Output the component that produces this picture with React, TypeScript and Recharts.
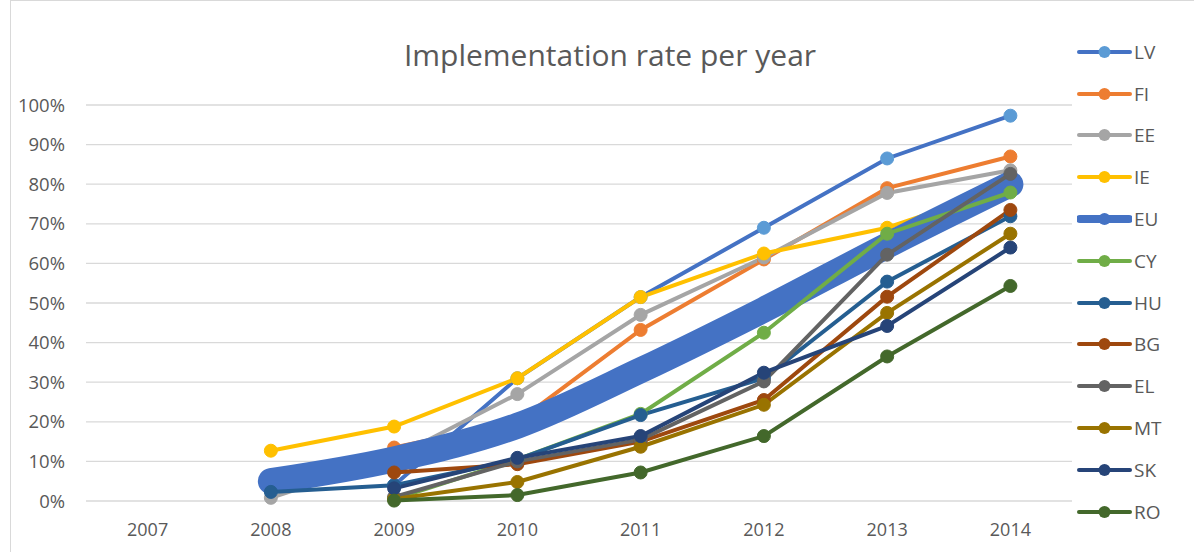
import { LineChart, Line, XAxis, YAxis, CartesianGrid } from 'recharts'

const years = ['2007', '2008', '2009', '2010', '2011', '2012', '2013', '2014']

// implementation rate per country, null = no data that year
const LV = [null, null, 0.04, 0.31, 0.515, 0.69, 0.865, 0.973]
const FI = [null, null, 0.135, 0.2, 0.432, 0.61, 0.79, 0.87]
const EE = [null, 0.008, 0.11, 0.27, 0.47, 0.615, 0.778, 0.835]
const IE = [null, 0.127, 0.188, 0.31, 0.515, 0.625, 0.69, 0.795]
const EU = [null, 0.05, 0.105, 0.19, 0.33, 0.483, 0.645, 0.8]
const CY = [null, null, 0.005, 0.105, 0.22, 0.425, 0.675, 0.779]
const HU = [null, 0.023, 0.04, 0.105, 0.217, 0.31, 0.554, 0.719]
const BG = [null, null, 0.072, 0.093, 0.15, 0.255, 0.516, 0.735]
const EL = [null, null, 0.01, 0.1, 0.155, 0.302, 0.622, 0.826]
const MT = [null, null, 0.005, 0.048, 0.137, 0.243, 0.475, 0.675]
const SK = [null, null, 0.032, 0.109, 0.164, 0.324, 0.442, 0.64]
const RO = [null, null, 0.001, 0.015, 0.072, 0.164, 0.365, 0.543]

const yTicks = [0, 0.1, 0.2, 0.3, 0.4, 0.5, 0.6, 0.7, 0.8, 0.9, 1]

const series = [
  { key: 'LV', values: LV, stroke: '#4472C4', dot: '#5B9BD5' },
  { key: 'FI', values: FI, stroke: '#ED7D31', dot: '#ED7D31' },
  { key: 'EE', values: EE, stroke: '#A5A5A5', dot: '#A5A5A5' },
  { key: 'IE', values: IE, stroke: '#FFC000', dot: '#FFC000' },
  { key: 'EU', values: EU, stroke: '#4472C4', dot: '#4472C4' },
  { key: 'CY', values: CY, stroke: '#70AD47', dot: '#70AD47' },
  { key: 'HU', values: HU, stroke: '#255E91', dot: '#255E91' },
  { key: 'BG', values: BG, stroke: '#9E480E', dot: '#9E480E' },
  { key: 'EL', values: EL, stroke: '#636363', dot: '#636363' },
  { key: 'MT', values: MT, stroke: '#997300', dot: '#997300' },
  { key: 'SK', values: SK, stroke: '#264478', dot: '#264478' },
  { key: 'RO', values: RO, stroke: '#43682B', dot: '#43682B' },
]

const data = years.map((year, i) => {
  const row: Record<string, any> = { year }
  series.forEach(s => { row[s.key] = s.values[i] })
  return row
})

const font = '"Open Sans", sans-serif'
const textColor = '#595959'
const xPad = { left: 61.6, right: 61.6 }

// recharts draws all dots above all lines, so the three groups are stacked
// as separate charts to keep Excel's series order (EU band over LV..IE)
const groups = [series.slice(0, 4), series.slice(4, 5), series.slice(5)]

function seriesLine(s: typeof series[number]) {
  if (s.key === 'EU') {
    return <Line key={s.key} dataKey={s.key} type="monotone" stroke={s.stroke} strokeWidth={26}
      strokeLinecap="round" strokeLinejoin="round" dot={false} activeDot={false} isAnimationActive={false} />
  }
  return <Line key={s.key} dataKey={s.key} type="linear" stroke={s.stroke} strokeWidth={4}
    dot={{ r: 6.5, fill: s.dot, stroke: s.dot, strokeWidth: 1 }} activeDot={false} isAnimationActive={false} />
}

export default function App() {
  return (
    <div style={{ position: 'absolute', left: 0, top: 0, width: 1194, height: 552, background: '#fff', fontFamily: font }}>
      <div style={{ position: 'absolute', left: 10, top: 0, width: 1200, height: 560, borderLeft: '1px solid #d9d9d9', borderTop: '1px solid #d9d9d9' }} />
      <div style={{ position: 'absolute', left: 0, top: 34, width: 1220, textAlign: 'center', fontSize: 30, color: textColor }}>
        Implementation rate per year
      </div>
      <LineChart width={1194} height={552} data={data}
        margin={{ top: 105, right: 122, bottom: 21, left: 0 }}
        style={{ position: 'absolute', left: 0, top: 0 }}>
        <CartesianGrid vertical={false} stroke="#d9d9d9" strokeWidth={1.3} />
        <XAxis dataKey="year" height={30} tickLine={false} axisLine={false} tickMargin={16}
          padding={xPad} tick={{ fill: textColor, fontSize: 18, fontFamily: font }} />
        <YAxis width={86} domain={[0, 1]} ticks={yTicks} tickLine={false} axisLine={false} tickMargin={15}
          tick={{ fill: textColor, fontSize: 18.5, fontFamily: font }}
          tickFormatter={v => `${Math.round(v * 100)}%`} />
        {groups[0].map(seriesLine)}
      </LineChart>
      {groups.slice(1).map((g, i) => (
        <LineChart key={i} width={1194} height={552} data={data}
          margin={{ top: 105, right: 122, bottom: 51, left: 86 }}
          style={{ position: 'absolute', left: 0, top: 0 }}>
          <XAxis dataKey="year" hide padding={xPad} />
          <YAxis hide domain={[0, 1]} />
          {g.map(seriesLine)}
        </LineChart>
      ))}
      <div style={{ position: 'absolute', left: 1077, top: 31 }}>
        {series.map(s => (
          <div key={s.key} style={{ display: 'flex', alignItems: 'center', height: 41.8 }}>
            <svg width={55} height={20}>
              <line x1={s.key === 'EU' ? 3 : 2} y1={10} x2={s.key === 'EU' ? 52 : 53} y2={10} stroke={s.stroke}
                strokeWidth={s.key === 'EU' ? 8 : 4} strokeLinecap="round" />
              <circle cx={27.5} cy={10} r={6} fill={s.dot} />
            </svg>
            <span style={{ fontSize: 19, color: textColor, marginLeft: 2 }}>{s.key}</span>
          </div>
        ))}
      </div>
    </div>
  )
}
